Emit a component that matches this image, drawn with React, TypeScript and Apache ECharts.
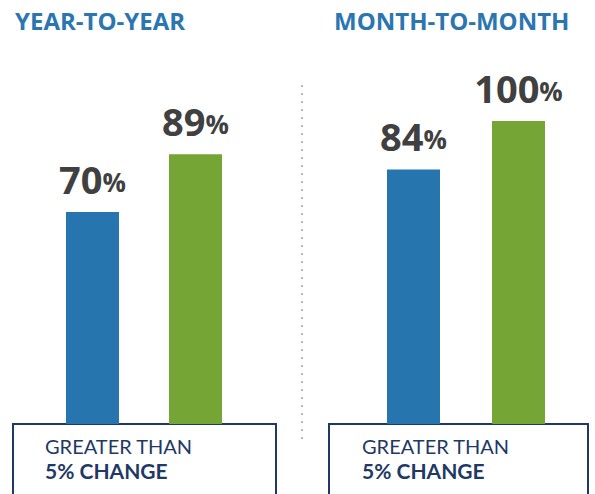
import React, { useEffect, useRef } from "react";
import * as echarts from "echarts";

const categories = ["Prior", "Current"];
const yearValues = [70, 89];
const monthValues = [84, 100];
const panelTitles = ["YEAR-TO-YEAR", "MONTH-TO-MONTH"];
const boxLine1 = "GREATER THAN";
const boxLine2 = "5% CHANGE";

const BLUE = "#2675ae";
const GREEN = "#74a535";
const NAVY = "#1f3965";
const TITLE = "#2b76b1";

function barData(values: number[]) {
  return values.map((v, i) => ({
    value: v,
    itemStyle: { color: i === 0 ? BLUE : GREEN },
  }));
}

const labelCfg = {
  show: true,
  position: "top",
  distance: 14,
  formatter: (p: any) => `{a|${p.value}}{b|%}`,
  rich: {
    a: { fontFamily: "Open Sans", fontWeight: "bold", fontSize: 38, color: "#404040" },
    b: { fontFamily: "Open Sans", fontWeight: "bold", fontSize: 26, color: "#404040", padding: [6, 0, 0, 0] },
  },
};

export default function App() {
  const ref = useRef<HTMLDivElement>(null);
  useEffect(() => {
    const chart = echarts.init(ref.current!, undefined, { renderer: "svg" });
    const grids = [
      { left: 41, top: 121, width: 206, height: 303 },
      { left: 361, top: 121, width: 210, height: 303 },
    ];
    chart.setOption({
      animation: false,
      grid: grids,
      xAxis: grids.map((_, i) => ({
        type: "category",
        gridIndex: i,
        data: categories,
        show: false,
      })),
      yAxis: grids.map((_, i) => ({
        type: "value",
        gridIndex: i,
        min: 0,
        max: 100,
        show: false,
      })),
      series: [
        { type: "bar", xAxisIndex: 0, yAxisIndex: 0, barWidth: 53, data: barData(yearValues), label: labelCfg },
        { type: "bar", xAxisIndex: 1, yAxisIndex: 1, barWidth: 53, data: barData(monthValues), label: labelCfg },
      ],
      graphic: [
        { type: "text", left: 15, top: 8, style: { text: panelTitles[0], fill: TITLE, font: "bold 24px 'Open Sans'" } },
        { type: "text", left: 334, top: 8, style: { text: panelTitles[1], fill: TITLE, font: "bold 24px 'Open Sans'" } },
        {
          type: "line",
          shape: { x1: 302, y1: 85, x2: 302, y2: 440 },
          style: { stroke: "#b8b8b8", lineWidth: 2, lineDash: [2, 6] },
        },
        { type: "rect", shape: { x: 13, y: 424, width: 263, height: 80 }, style: { fill: "#fff", stroke: NAVY, lineWidth: 2 } },
        { type: "rect", shape: { x: 329, y: 424, width: 259, height: 80 }, style: { fill: "#fff", stroke: NAVY, lineWidth: 2 } },
        { type: "text", x: 45, y: 436, style: { text: boxLine1, fill: NAVY, font: "20px 'Lato'" } },
        { type: "text", x: 45, y: 460, style: { text: boxLine2, fill: NAVY, font: "bold 21px 'Lato'" } },
        { type: "text", x: 362, y: 436, style: { text: boxLine1, fill: NAVY, font: "20px 'Lato'" } },
        { type: "text", x: 362, y: 460, style: { text: boxLine2, fill: NAVY, font: "bold 21px 'Lato'" } },
      ],
    });
    return () => chart.dispose();
  }, []);
  return <div ref={ref} style={{ width: 595, height: 494, position: "absolute", left: 0, top: 0 }} />;
}
